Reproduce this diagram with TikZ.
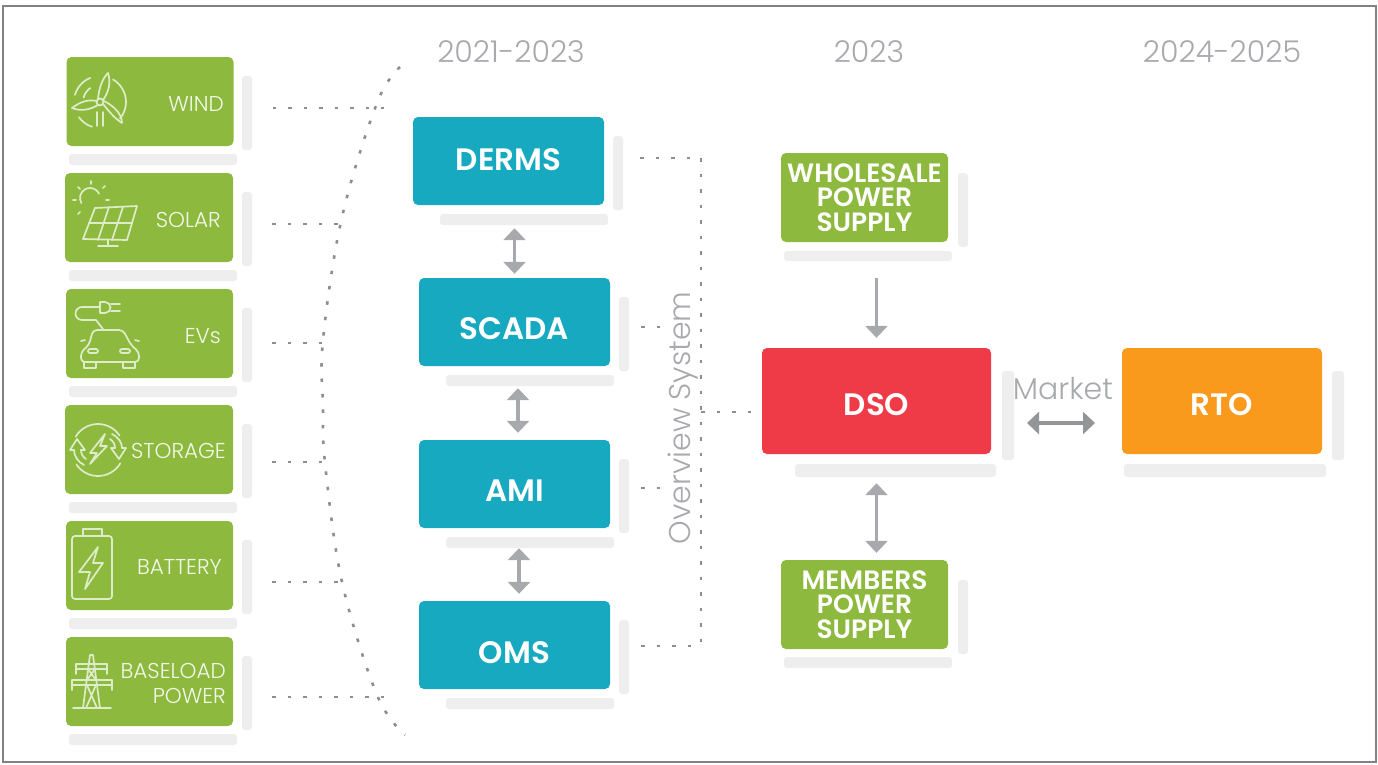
\documentclass[tikz,border=0pt]{standalone}
\usepackage{fontspec}
\setmainfont{Poppins}
\newfontfamily\thinfont{Poppins Light}
\newfontfamily\semifont{Poppins SemiBold}
\usetikzlibrary{arrows.meta}
\definecolor{leaf}{HTML}{8DBA3E}
\definecolor{teal}{HTML}{17A9BF}
\definecolor{dsored}{HTML}{EF3B47}
\definecolor{rtoorange}{HTML}{FA9A1C}
\definecolor{shade}{HTML}{EEEEEE}
\definecolor{inkgray}{HTML}{A7A9AC}
\definecolor{dotgray}{HTML}{808285}
\tikzset{
  card/.style={rounded corners=5pt,inner sep=0pt,draw=none,text=white,align=center},
  greencard/.style={card,fill=leaf,minimum width=167pt,minimum height=89pt,font=\semifont\fontsize{26.5}{24.5}\selectfont},
  tealcard/.style={card,fill=teal,minimum width=191pt,minimum height=88pt},
  bigcard/.style={card,minimum width=229pt,minimum height=106pt},
  boxtext/.style={text=white,inner sep=0pt,font=\semifont\fontsize{31}{31}\selectfont},
  bar/.style={fill=shade,rounded corners=3pt},
  dotline/.style={draw=dotgray!90,line width=2.6pt,dash pattern=on 3.5pt off 12pt},
  biarrow/.style={draw=inkgray,line width=3.2pt,{Triangle[width=22pt,length=12pt]}-{Triangle[width=22pt,length=12pt]}},
  oneline/.style={draw=inkgray,line width=3.2pt,-{Triangle[width=22pt,length=12pt]}},
  yeartext/.style={text=inkgray,font=\thinfont\fontsize{30}{30}\selectfont},
  tag/.style={text=white!90!leaf,font=\thinfont\fontsize{21.5}{25}\selectfont,align=right,inner sep=0pt},
  icon/.style={draw=white!72!leaf,line width=1.7pt,line cap=round,line join=round},
}
\begin{document}
\begin{tikzpicture}[x=1pt,y=-1pt]
  \useasboundingbox (0,0) rectangle (1378,764);
  \draw[dotgray,line width=2.5pt] (3,6) rectangle (1376,762);

  % green column
  \node[greencard] (wind) at (150,101.5) {};
  \node[greencard,minimum width=168pt] (solar) at (149,217.5) {};
  \node[greencard] (evs) at (149.5,333.5) {};
  \node[greencard,minimum width=168pt] (storage) at (149,449.5) {};
  \node[greencard] (battery) at (149.5,565.5) {};
  \node[greencard] (baseload) at (149.5,681.5) {};
  \foreach \y in {57,173,289,405,521,637}{
    \fill[bar] (242,\y+19) rectangle (252,\y+93);
    \fill[bar] (69,\y+97) rectangle (237,\y+108);
  }
  \node[tag,anchor=east] (windtag) at (224,104) {WIND};
  \node[tag,anchor=east] (solartag) at (221,220) {SOLAR};
  \node[tag,anchor=east] (evstag) at (221,336) {EVs};
  \node[tag,anchor=east] (storagetag) at (226,451) {STORAGE};
  \node[tag,anchor=east] (batterytag) at (222,567) {BATTERY};
  \node[tag,anchor=east] (baseloadtag) at (226,683) {BASELOAD\\POWER};

  % wind icon
  \begin{scope}[icon,shift={(100,102)}]
    \draw (0,0) circle (3.5);
    \draw (-2,-3) .. controls (-1,-15) and (3,-24) .. (8,-29) .. controls (11,-20) and (9,-10) .. (3,-2);
    \draw (-3.5,-1) .. controls (-12,-3) and (-20,0) .. (-28,6) .. controls (-18,10) and (-9,7) .. (-2,3);
    \draw (3,2) .. controls (8,8) and (14,16) .. (22,21) .. controls (22,12) and (14,4) .. (4,-1);
    \draw (196:26) arc (196:248:26);
    \draw (195:17) arc (195:235:17);
    \draw (-60:26) arc (-60:40:26);
    \draw (144:26) arc (144:108:26);
    \draw (-3,10) -- (-3,24) (3,10) -- (3,24);
  \end{scope}
  % solar icon
  \begin{scope}[icon]
    \draw (90,198) ++(150:10) arc (150:335:10);
    \draw (91,181) -- (91,184) (73,200) -- (76,200) (78,187) -- (80,189) (105,186) -- (103,188) (78,214) -- (80,212) (109,200) -- (106,200);
    \draw (95,208) -- (137,206) -- (127,240) -- (83,239) -- cycle;
    \draw (89,223) -- (132,223) (109,207) -- (98,240) (123,207) -- (112,240);
    \draw (108,240) -- (108,246) (98,246) -- (118,246);
  \end{scope}
  % ev icon
  \begin{scope}[icon]
    \draw (99,307) -- (82,307) arc (270:90:6.5) -- (96,320) -- (103,329);
    \draw (100,302) -- (105,302) arc (-90:90:5.5) -- (100,313) -- cycle;
    \draw (111,304) -- (120,304) (111,311) -- (120,311);
    \draw[rounded corners=4pt] (93,330) -- (123,330) -- (131,345) -- (139,352) -- (139,362) -- (81,362) -- (81,352) -- (89,345) -- cycle;
    \draw (85,340) -- (81,341) (135,340) -- (139,341);
    \draw[rounded corners=2pt] (88,349) rectangle (98,353) (120,349) rectangle (130,353);
    \draw (84,362) -- (84,368) -- (96,368) -- (96,362) (123,362) -- (123,368) -- (135,368) -- (135,362);
  \end{scope}
  % storage icon
  \begin{scope}[icon,shift={(98,450)}]
    \draw (211:26) arc (211:326:26) (31:26) arc (31:146:26);
    \draw (-28,0) -- (-21,-11) -- (-13,0) -- (-17,0) (-28,0) -- (-24,0);
    \draw (-24,0) .. controls (-24,6) and (-20,12) .. (-14,15);
    \draw (-17,0) .. controls (-17,4) and (-15,7) .. (-12,9);
    \draw (28,-2) -- (21,9) -- (13,-2) -- (17,-2) (28,-2) -- (24,-2);
    \draw (24,-2) .. controls (24,-8) and (20,-13) .. (14,-16);
    \draw (17,-2) .. controls (17,-6) and (15,-9) .. (12,-11);
    \draw (7,-16) -- (-8,3) -- (-1,3) -- (-8,14) -- (9,-4) -- (2,-4) -- cycle;
  \end{scope}
  % battery icon
  \begin{scope}[icon]
    \draw[rounded corners=3pt] (72,536) rectangle (112,599);
    \draw (83,536) -- (83,529) -- (102,529) -- (102,536);
    \draw (98,547) -- (79,572) -- (90,572) -- (85,589) -- (103,563) -- (93,563) -- cycle;
  \end{scope}
  % pylon icon
  \begin{scope}[icon]
    \draw (73,708) -- (111,708);
    \draw (83,708) -- (90,655) -- (93,655) -- (100,708);
    \draw (76,664) -- (107,664) (76,669) -- (107,669) (72,680) -- (112,680) (72,685) -- (112,685);
    \draw (76,664) -- (76,674) (107,664) -- (107,674) (72,680) -- (72,690) (112,680) -- (112,690);
    \draw (88,669) -- (96,680) (95,669) -- (87,680) (87,685) -- (97,708) (96,685) -- (86,708);
  \end{scope}

  % middle column
  \node[tealcard] (derms) at (508.5,161) {};
  \node[tealcard] (scada) at (514.5,322) {};
  \node[tealcard] (ami) at (514.5,484) {};
  \node[tealcard] (oms) at (514.5,645) {};
  \node[boxtext] (dermstext) at ([yshift=1pt]derms.center) {DERMS};
  \node[boxtext] (scadatext) at ([yshift=-7pt]scada.center) {SCADA};
  \node[boxtext] (amitext) at ([yshift=-7pt]ami.center) {AMI};
  \node[boxtext] (omstext) at ([yshift=-8pt]oms.center) {OMS};
  \foreach \x/\y in {413/117,419/278,419/440,419/601}{
    \fill[bar] (\x+200,\y+19) rectangle (\x+210,\y+93);
    \fill[bar] (\x+27,\y+97) rectangle (\x+195,\y+108);
  }
  \draw[biarrow,shorten <=23pt,shorten >=4pt] (derms.south -| scada.north) -- (scada.north);
  \draw[biarrow,shorten <=22pt,shorten >=7pt] ([xshift=3.5pt]scada.south) -- ([xshift=3.5pt]ami.north);
  \draw[biarrow,shorten <=20pt,shorten >=7pt] ([xshift=4.5pt]ami.south) -- ([xshift=4.5pt]oms.north);

  % right side
  \node[greencard] (wholesale) at (864.5,197.5) {WHOLESALE\\POWER\\SUPPLY};
  \node[bigcard,fill=dsored] (dso) at (876.5,401) {};
  \node[bigcard,fill=rtoorange,minimum width=200pt] (rto) at (1222,401) {};
  \node[boxtext] (dsotext) at ([yshift=-4pt]dso.center) {DSO};
  \node[boxtext] (rtotext) at ([yshift=-4pt]rto.center) {RTO};
  \node[greencard] (members) at (864.5,604.5) {MEMBERS\\POWER\\SUPPLY};
  \fill[bar] (958,173) rectangle (968,247) (784,251) rectangle (952,261);
  \fill[bar] (958,580) rectangle (968,654) (784,657) rectangle (952,668);
  \fill[bar] (1002,371) rectangle (1014,460) (795,464) rectangle (996,477);
  \fill[bar] (1332,371) rectangle (1344,460) (1124,464) rectangle (1326,477);
  \draw[oneline,shorten <=36pt,shorten >=10pt] (wholesale.south -| dso.north) -- (dso.north);
  \draw[biarrow,shorten <=29pt,shorten >=7pt] (dso.south) -- (members.north -| dso.south);

  % year headings
  \node[yeartext] (yeara) at (511,52) {2021-2023};
  \node[yeartext] (yearb) at (869,52) {2023};
  \node[yeartext] (yearc) at (1222,52) {2024-2025};

  % dotted links
  \draw[dotline] plot[smooth,tension=0.6] coordinates {(400,67) (377,103) (342,217) (323,340) (323,407) (325,463) (342,582) (377,695) (405,735)};
  \foreach \n/\l/\s in {wind/150/6.5,solar/109/6.5,evs/92/9.5,storage/92/12.5,battery/109/16.5,baseload/155/15.5}
    \draw[dotline,shorten <=39pt] ([yshift=-\s pt]\n.east) -- ++(\l,0);
  \coordinate (busdown) at (701,646);
  \coordinate (bustop) at (701,158);
  \coordinate (busmid) at (701,412);
  \draw[dotline] (bustop) -- (busdown);
  \draw[dotline,shorten <=36pt] (derms.east |- bustop) -- (bustop);
  \draw[dotline,shorten <=31pt] ([yshift=-5pt]scada.east) -- ++(60,0);
  \draw[dotline,shorten <=31pt] ([yshift=-4pt]ami.east) -- ++(60,0);
  \draw[dotline,shorten <=31pt] (oms.east |- busdown) -- (busdown);
  \draw[dotline,shorten >=8pt] (busmid) -- (busmid -| dso.west);
  \node[yeartext,rotate=90] (overview) at (683,418) {Overview System};

  % market
  \node[yeartext] (market) at (1063,389) {Market};
  \coordinate (marketl) at (1027,423);
  \coordinate (marketr) at (1095,423);
  \draw[biarrow,draw=dotgray!85] (marketl) -- (marketr);
\end{tikzpicture}
\end{document}
